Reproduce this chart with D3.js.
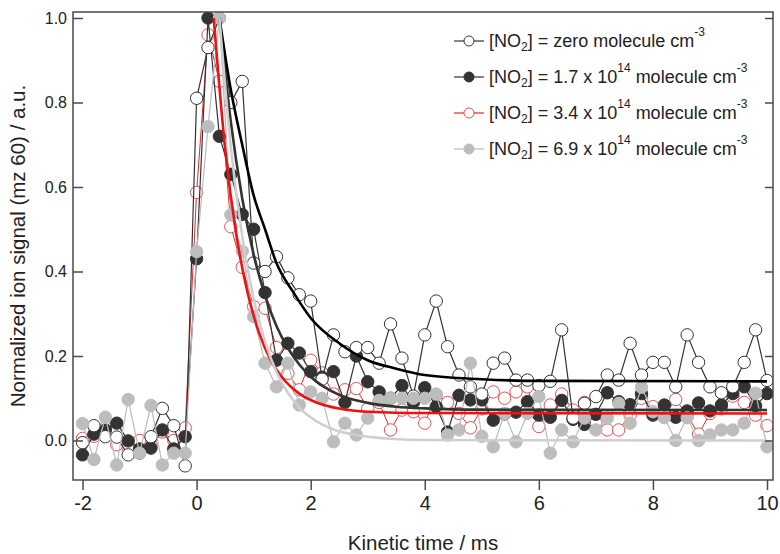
<!DOCTYPE html>
<html>
<head>
<meta charset="utf-8">
<script src="https://cdn.jsdelivr.net/npm/d3@7"></script>
<style>
body { margin: 0; background: #fff; }
svg { display: block; font-family: "Liberation Sans", Arial, sans-serif; }
</style>
</head>
<body>
<svg id="svg" width="780" height="554"></svg>
<script>
// kinetic time grid, ms
const time = [
    -2.0, -1.8, -1.6, -1.4, -1.2, -1.0, -0.8, -0.6, -0.4, -0.2,
    0.0, 0.2, 0.4, 0.6, 0.8, 1.0, 1.2, 1.4, 1.6, 1.8,
    2.0, 2.2, 2.4, 2.6, 2.8, 3.0, 3.2, 3.4, 3.6, 3.8,
    4.0, 4.2, 4.4, 4.6, 4.8, 5.0, 5.2, 5.4, 5.6, 5.8,
    6.0, 6.2, 6.4, 6.6, 6.8, 7.0, 7.2, 7.4, 7.6, 7.8,
    8.0, 8.2, 8.4, 8.6, 8.8, 9.0, 9.2, 9.4, 9.6, 9.8, 10.0
];

// [NO2] = zero
const zeroSignal = [
    -0.005, 0.035, 0.009, 0.008, -0.034, -0.03, 0.009, 0.076, 0.035, -0.06,
    0.81, 0.93, 1.0, 0.80, 0.85, 0.42, 0.40, 0.435, 0.385, 0.345,
    0.33, 0.145, 0.25, 0.21, 0.22, 0.22, 0.183, 0.276, 0.195, 0.105,
    0.25, 0.33, 0.222, 0.155, 0.127, 0.11, 0.183, 0.195, 0.143, 0.143,
    0.13, 0.14, 0.262, 0.053, 0.088, 0.104, 0.155, 0.143, 0.23, 0.155,
    0.185, 0.185, 0.127, 0.25, 0.185, 0.127, 0.113, 0.127, 0.185, 0.262, 0.142
];

// [NO2] = 1.7e14
const lowSignal = [
    -0.034, 0.015, 0.025, 0.041, -0.001, -0.02, -0.018, 0.025, -0.02, 0.009,
    0.43, 1.0, 0.72, 0.63, 0.535, 0.50, 0.35, 0.19, 0.23, 0.207,
    0.163, 0.15, 0.163, 0.09, 0.2, 0.139, 0.115, 0.10, 0.13, 0.09,
    0.125, 0.08, 0.02, 0.107, 0.096, 0.096, 0.048, 0.063, 0.067, 0.092,
    0.06, 0.055, 0.095, 0.05, 0.038, 0.062, 0.113, 0.092, 0.085, 0.111,
    0.06, 0.084, 0.055, 0.07, 0.089, 0.07, 0.084, 0.111, 0.127, 0.082, 0.111
];

// [NO2] = 3.4e14
const midSignal = [
    0.005, 0.01, 0.03, -0.01, -0.018, 0.0, -0.01, 0.02, 0.0, 0.03,
    0.587, 0.96, 0.85, 0.506, 0.41, 0.317, 0.313, 0.22, 0.159, 0.12,
    0.19, 0.16, 0.11, 0.12, 0.123, 0.075, 0.09, 0.025, 0.072, 0.068,
    0.041, 0.108, 0.09, 0.064, 0.03, 0.075, 0.115, 0.10, 0.115, 0.127,
    0.033, 0.084, 0.11, 0.072, 0.09, 0.04, 0.025, 0.025, 0.06, 0.1,
    0.08, 0.06, 0.097, 0.06, 0.015, 0.064, 0.075, 0.105, 0.09, 0.06, 0.035
];

// [NO2] = 6.9e14
const highSignal = [
    0.04, -0.045, 0.055, -0.058, 0.097, -0.03, 0.083, -0.058, -0.03, -0.03,
    0.447, 0.743, 1.0, 0.534, 0.448, 0.293, 0.183, 0.127, 0.183, 0.084,
    0.115, 0.10, -0.003, 0.041, 0.013, 0.053, 0.095, 0.10, 0.10, 0.10,
    0.10, 0.11, 0.013, 0.025, 0.183, 0.01, -0.015, 0.064, -0.003, 0.064,
    0.104, -0.03, 0.025, -0.003, 0.053, 0.025, 0.053, 0.088, 0.041, 0.126,
    0.068, 0.054, 0.0, 0.054, 0.0, 0.013, 0.025, 0.025, 0.041, 0.112, -0.015
];

// decay fits
const zeroFitTime = [0.4, 0.6, 0.8, 1.0, 1.2, 1.4, 1.7, 2.0, 2.5, 3.0, 3.5, 4.0, 5.0, 6.0, 10.0];
const zeroFitValue = [1.0, 0.83, 0.70, 0.58, 0.50, 0.42, 0.35, 0.29, 0.23, 0.19, 0.17, 0.155, 0.145, 0.141, 0.14];
const lowFitTime = [0.4, 0.6, 0.8, 1.0, 1.2, 1.4, 1.6, 1.8, 2.0, 2.5, 3.0, 3.5, 4.0, 5.0, 10.0];
const lowFitValue = [1.0, 0.754, 0.573, 0.44, 0.343, 0.271, 0.219, 0.18, 0.151, 0.108, 0.089, 0.08, 0.076, 0.073, 0.072];
const midFitTime = [0.3, 0.5, 0.7, 0.9, 1.1, 1.3, 1.5, 1.8, 2.1, 2.5, 3.0, 4.0, 10.0];
const midFitValue = [1.0, 0.691, 0.484, 0.346, 0.253, 0.19, 0.149, 0.111, 0.09, 0.0755, 0.068, 0.065, 0.064];
const highFitTime = [0.4, 0.6, 0.8, 1.0, 1.2, 1.4, 1.6, 1.8, 2.0, 2.4, 2.8, 3.4, 4.0, 10.0];
const highFitValue = [1.0, 0.695, 0.483, 0.336, 0.234, 0.162, 0.113, 0.078, 0.055, 0.026, 0.013, 0.004, 0.001, 0.0];

const xTicks = [-2, 0, 2, 4, 6, 8, 10];
const yTicks = [0.0, 0.2, 0.4, 0.6, 0.8, 1.0];

const series = [
    {name: "mid", values: midSignal, fitT: midFitTime, fitV: midFitValue,
     line: "#e02a2a", lineWidth: 1, fill: "#fff", stroke: "#e65050", fitColor: "#ee1111",
     legend: [["[NO"], ["2", "sub"], ["] = 3.4 x 10"], ["14", "sup"], [" molecule cm"], ["-3", "sup"]]},
    {name: "low", values: lowSignal, fitT: lowFitTime, fitV: lowFitValue,
     line: "#333", lineWidth: 1.2, fill: "#333", stroke: "#333", fitColor: "#333",
     legend: [["[NO"], ["2", "sub"], ["] = 1.7 x 10"], ["14", "sup"], [" molecule cm"], ["-3", "sup"]]},
    {name: "zero", values: zeroSignal, fitT: zeroFitTime, fitV: zeroFitValue,
     line: "#333", lineWidth: 1.2, fill: "#fff", stroke: "#333", fitColor: "#000",
     legend: [["[NO"], ["2", "sub"], ["] = zero molecule cm"], ["-3", "sup"]]},
    {name: "high", values: highSignal, fitT: highFitTime, fitV: highFitValue,
     line: "#bbb", lineWidth: 1.2, fill: "#bdbdbd", stroke: "#bdbdbd", fitColor: "#cfcfcf",
     legend: [["[NO"], ["2", "sub"], ["] = 6.9 x 10"], ["14", "sup"], [" molecule cm"], ["-3", "sup"]]}
];
const legendOrder = ["zero", "low", "mid", "high"];

const margin = {left: 73, right: 7, top: 12, bottom: 74};
const width = 780, height = 554;

const x = d3.scaleLinear().domain([-2.167, 10.105]).range([margin.left, width - margin.right]);
const y = d3.scaleLinear().domain([-0.0935, 1.0142]).range([height - margin.bottom, margin.top]);

const svg = d3.select("#svg");

svg.append("clipPath").attr("id", "plotClip")
    .append("rect")
    .attr("x", margin.left).attr("y", margin.top)
    .attr("width", width - margin.left - margin.right)
    .attr("height", height - margin.top - margin.bottom);

const plot = svg.append("g").attr("clip-path", "url(#plotClip)");

const dataLine = d3.line().x(d => x(d[0])).y(d => y(d[1]));
const fitLine = d3.line().x(d => x(d[0])).y(d => y(d[1])).curve(d3.curveMonotoneX);

series.forEach(s => {
    const pts = time.map((t, i) => [t, s.values[i]]);
    plot.append("path")
        .attr("d", dataLine(pts))
        .attr("fill", "none")
        .attr("stroke", s.line)
        .attr("stroke-width", s.lineWidth);
    plot.append("g").selectAll("circle")
        .data(pts)
        .enter()
        .append("circle")
        .attr("cx", d => x(d[0]))
        .attr("cy", d => y(d[1]))
        .attr("r", 6.2)
        .attr("fill", s.fill)
        .attr("stroke", s.stroke)
        .attr("stroke-width", 1);
});

// fits on top of the markers
series.forEach(s => {
    plot.append("path")
        .attr("d", fitLine(s.fitT.map((t, i) => [t, s.fitV[i]])))
        .attr("fill", "none")
        .attr("stroke", s.fitColor)
        .attr("stroke-width", 2.6);
});

// frame
const frameColor = "#4a4a4a";
svg.append("rect")
    .attr("x", margin.left).attr("y", margin.top)
    .attr("width", width - margin.left - margin.right)
    .attr("height", height - margin.top - margin.bottom)
    .attr("fill", "none")
    .attr("stroke", frameColor)
    .attr("stroke-width", 1.5);

const xAxis = svg.append("g")
    .attr("transform", `translate(0,${height - margin.bottom})`)
    .call(d3.axisBottom(x).tickValues(xTicks).tickSize(10).tickPadding(6).tickFormat(d => String(d)));
xAxis.select(".domain").remove();
xAxis.selectAll("line").attr("stroke", frameColor).attr("stroke-width", 1.5);
xAxis.selectAll("text").attr("font-size", 20).attr("fill", "#222").attr("font-family", null);

const yAxis = svg.append("g")
    .attr("transform", `translate(${margin.left},0)`)
    .call(d3.axisLeft(y).tickValues(yTicks).tickSize(-10).tickPadding(6).tickFormat(d3.format(".1f")));
yAxis.select(".domain").remove();
yAxis.selectAll("line").attr("stroke", frameColor).attr("stroke-width", 1.5);
yAxis.selectAll("text").attr("font-size", 16).attr("fill", "#222").attr("font-family", null);

const yRight = svg.append("g")
    .attr("transform", `translate(${width - margin.right},0)`)
    .call(d3.axisRight(y).tickValues(yTicks).tickSize(-8).tickFormat(""));
yRight.select(".domain").remove();
yRight.selectAll("line").attr("stroke", frameColor).attr("stroke-width", 1.5);

// axis titles
svg.append("text")
    .attr("x", (margin.left + width - margin.right) / 2)
    .attr("y", 550)
    .attr("text-anchor", "middle")
    .attr("font-size", 20.5)
    .attr("fill", "#222")
    .text("Kinetic time / ms");

svg.append("text")
    .attr("transform", `translate(25,${(margin.top + height - margin.bottom) / 2}) rotate(-90)`)
    .attr("text-anchor", "middle")
    .attr("font-size", 20.5)
    .attr("fill", "#222")
    .text("Normalized ion signal (mz 60) / a.u.");

// legend
const richText = (sel, parts) => {
    let offset = 0;
    parts.forEach(([str, kind]) => {
        const target = kind === "sup" ? -11 : kind === "sub" ? 4 : 0;
        sel.append("tspan")
            .attr("dy", target - offset)
            .attr("font-size", kind ? 12 : null)
            .text(str);
        offset = target;
    });
};

const legend = svg.append("g");
legendOrder.forEach((name, i) => {
    const s = series.find(d => d.name === name);
    const cy = 41 + i * 36;
    legend.append("line")
        .attr("x1", 454).attr("x2", 484)
        .attr("y1", cy).attr("y2", cy)
        .attr("stroke", s.line)
        .attr("stroke-width", 1.2);
    legend.append("circle")
        .attr("cx", 469).attr("cy", cy).attr("r", 5)
        .attr("fill", s.fill)
        .attr("stroke", s.stroke);
    const label = legend.append("text")
        .attr("x", 489).attr("y", cy + 6)
        .attr("font-size", 18)
        .attr("fill", "#222");
    richText(label, s.legend);
});
</script>
</body>
</html>
